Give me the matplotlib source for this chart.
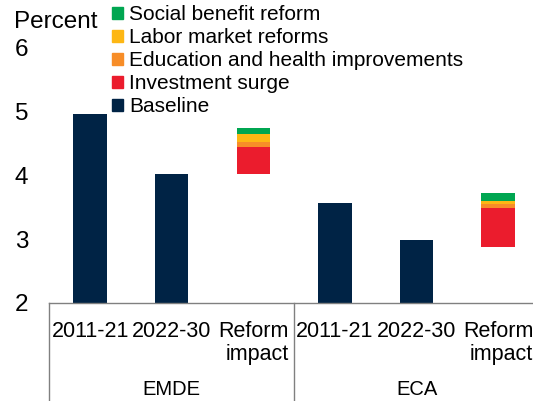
"""
Potential growth: baseline periods and the lift from a package of reforms,
for EMDEs and ECA.
"""

import numpy as np
import matplotlib
matplotlib.use("Agg")
import matplotlib.pyplot as plt
import matplotlib.transforms as mtransforms
from matplotlib.patches import Patch

plt.rcParams["font.family"] = ["Liberation Sans", "DejaVu Sans"]

# ----------------------------------------------------------------------------
# Data (percent)
# ----------------------------------------------------------------------------
regions = ["EMDE", "ECA"]
periods = ["2011-21", "2022-30", "Reform\nimpact"]

baseline_2011_21 = [4.96, 3.57]
baseline_2022_30 = [4.02, 2.98]

# reform bars float on top of their own starting level
reform_start = [4.02, 2.88]
investment_surge = [0.43, 0.61]
education_health = [0.08, 0.06]
labor_market = [0.12, 0.05]
social_benefit = [0.10, 0.13]

NAVY = "#002345"
RED = "#EB1C2D"
ORANGE = "#F78D28"
YELLOW = "#FDB714"
GREEN = "#00A651"
GRID_GRAY = "#808080"

# ----------------------------------------------------------------------------
# Figure
# ----------------------------------------------------------------------------
fig = plt.figure(figsize=(5.33, 4.01), dpi=100)
ax = fig.add_axes([0.0925, 0.2451, 0.9186, 0.6354])

n_per = len(periods)
width = 0.41

for g, region in enumerate(regions):
    x0 = g * n_per
    ax.bar(x0, baseline_2011_21[g], width, color=NAVY)
    ax.bar(x0 + 1, baseline_2022_30[g], width, color=NAVY)

    # stacked reform contributions
    bottom = reform_start[g]
    for vals, col in [(investment_surge, RED), (education_health, ORANGE),
                      (labor_market, YELLOW), (social_benefit, GREEN)]:
        ax.bar(x0 + 2, vals[g], width, bottom=bottom, color=col)
        bottom += vals[g]

ax.set_xlim(-0.5, len(regions) * n_per - 0.5)
ax.set_ylim(2, 6)
ax.set_yticks([2, 3, 4, 5, 6])
ax.tick_params(axis="y", length=0, pad=15, labelsize=17.5)

# category labels under each bar
ax.set_xticks(np.arange(len(regions) * n_per))
ax.set_xticklabels(periods * len(regions), fontsize=15.5, linespacing=1.1,
                   multialignment="right")
ax.tick_params(axis="x", length=0, pad=13.5)

for side in ["top", "right", "left"]:
    ax.spines[side].set_visible(False)
ax.spines["bottom"].set_color(GRID_GRAY)
ax.spines["bottom"].set_linewidth(1.0)

# group separators and region names
trans = mtransforms.blended_transform_factory(ax.transData, ax.transAxes)
for g in range(len(regions)):
    xs = g * n_per - 0.5
    ax.plot([xs, xs], [0, -0.40], transform=trans, color=GRID_GRAY,
            lw=1.0, clip_on=False)
    ax.text(g * n_per + 1, -0.362, regions[g], transform=trans,
            ha="center", va="baseline", fontsize=14.5)

fig.text(13.7 / 533, 1 - 28 / 401, "Percent", fontsize=17.5,
         ha="left", va="baseline")

handles = [Patch(color=GREEN, label="Social benefit reform"),
           Patch(color=YELLOW, label="Labor market reforms"),
           Patch(color=ORANGE, label="Education and health improvements"),
           Patch(color=RED, label="Investment surge"),
           Patch(color=NAVY, label="Baseline")]
fig.legend(handles=handles, loc="upper left",
           bbox_to_anchor=(112.3 / 533, 1 - 5.5 / 401),
           frameon=False, fontsize=15, borderpad=0, borderaxespad=0,
           handlelength=0.49, handleheight=0.49, handletextpad=0.32,
           labelspacing=0.19)

fig.savefig("out.png", dpi=100)
